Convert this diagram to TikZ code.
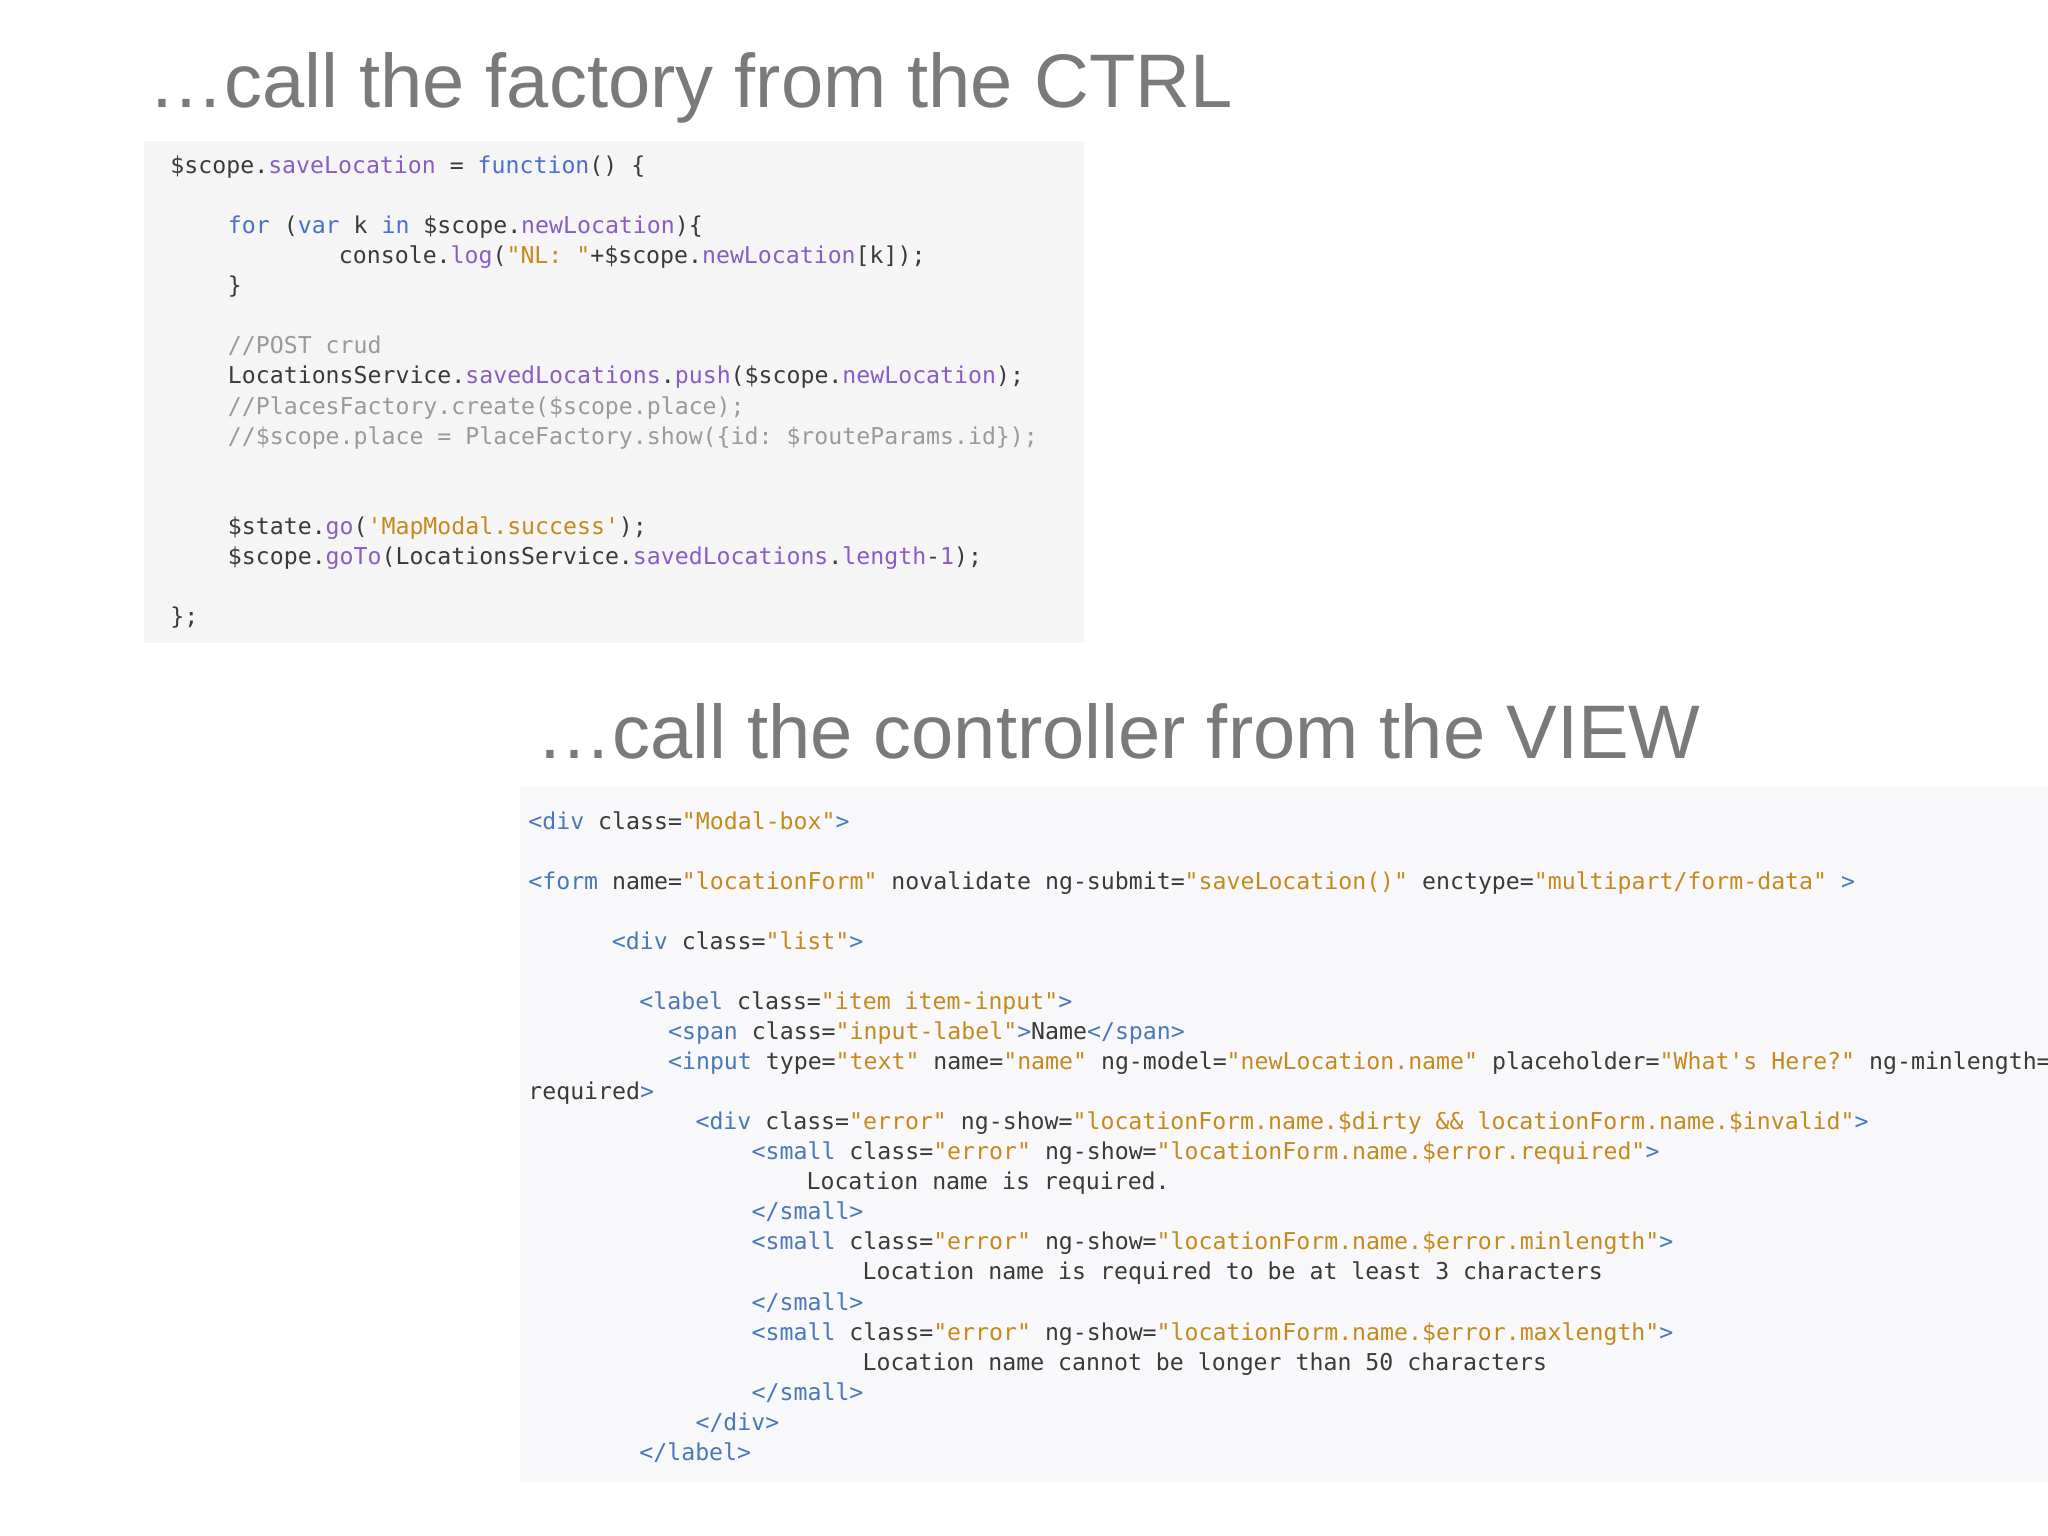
\documentclass[tikz,border=0pt]{standalone}
\usepackage{fontspec}
\setmainfont{Liberation Sans}
\setmonofont{DejaVu Sans Mono}
\definecolor{titlegray}{HTML}{7A7A7A}
\definecolor{codetext}{HTML}{3A3A3A}
\definecolor{kwblue}{HTML}{4A6FCF}
\definecolor{propurple}{HTML}{8A5CC4}
\definecolor{strorange}{HTML}{C48A1C}
\definecolor{cmtgray}{HTML}{9A9A9A}
\definecolor{tagblue}{HTML}{4A78B8}
\definecolor{boxA}{HTML}{F5F5F5}
\definecolor{boxB}{HTML}{F8F7FA}
\newcommand{\kw}[1]{\textcolor{kwblue}{#1}}
\newcommand{\pr}[1]{\textcolor{propurple}{#1}}
\newcommand{\st}[1]{\textcolor{strorange}{#1}}
\newcommand{\cm}[1]{\textcolor{cmtgray}{#1}}
\newcommand{\tg}[1]{\textcolor{tagblue}{#1}}
\tikzset{
  slidetitle/.style={anchor=base west, inner sep=0, text=titlegray, font=\fontsize{21.6}{26}\selectfont},
  codeline/.style={anchor=base west, inner sep=0, text=codetext, font=\ttfamily\fontsize{6.6}{8}\selectfont}
}
\begin{document}
\begin{tikzpicture}[x=0.013061cm, y=-0.013061cm]
    \useasboundingbox (0,0) rectangle (1568,1176);
    \fill[white] (0,0) rectangle (1568,1176);

    % Titles
    \node[slidetitle] (ttlctrl) at (113,82) {…call the factory from the CTRL};
    \node[slidetitle] (ttlview) at (410,581) {…call the controller from the VIEW};

    % Controller code
    \fill[boxA] (110,108) rectangle (830,492);
    \node[codeline] (c1) at (130,133) {\$scope.\pr{saveLocation} = \kw{function}() \{};
    \node[codeline] (c2) at (174,179) {\kw{for} (\kw{var} k \kw{in} \$scope.\pr{newLocation})\{};
    \node[codeline] (c3) at (259,202) {console.\pr{log}(\st{"NL: "}+\$scope.\pr{newLocation}[k]);};
    \node[codeline] (c4) at (174,225) {\}};
    \node[codeline] (c5) at (174,271) {\cm{//POST crud}};
    \node[codeline] (c6) at (174,294) {LocationsService.\pr{savedLocations}.\pr{push}(\$scope.\pr{newLocation});};
    \node[codeline] (c7) at (174,317) {\cm{//PlacesFactory.create(\$scope.place);}};
    \node[codeline] (c8) at (174,340) {\cm{//\$scope.place = PlaceFactory.show(\{id: \$routeParams.id\});}};
    \node[codeline] (c9) at (174,409) {\$state.\pr{go}(\st{'MapModal.success'});};
    \node[codeline] (c10) at (174,432) {\$scope.\pr{goTo}(LocationsService.\pr{savedLocations}.\pr{length}-\pr{1});};
    \node[codeline] (c11) at (130,478) {\};};

    % View code
    \fill[boxB] (398,602) rectangle (1568,1135);
    \node[codeline] (v1) at (404,635) {\tg{<div} class=\st{"Modal-box"}\tg{>}};
    \node[codeline] (v2) at (404,681) {\tg{<form} name=\st{"locationForm"} novalidate ng-submit=\st{"saveLocation()"} enctype=\st{"multipart/form-data"} \tg{>}};
    \node[codeline] (v3) at (468,727) {\tg{<div} class=\st{"list"}\tg{>}};
    \node[codeline] (v4) at (489,773) {\tg{<label} class=\st{"item item-input"}\tg{>}};
    \node[codeline] (v5) at (511,796) {\tg{<span} class=\st{"input-label"}\tg{>}Name\tg{</span>}};
    \node[codeline] (v6) at (511,819) {\tg{<input} type=\st{"text"} name=\st{"name"} ng-model=\st{"newLocation.name"} placeholder=\st{"What's Here?"} ng-minlength=};
    \node[codeline] (v7) at (404,842) {required\tg{>}};
    \node[codeline] (v8) at (532,865) {\tg{<div} class=\st{"error"} ng-show=\st{"locationForm.name.\$dirty \&\& locationForm.name.\$invalid"}\tg{>}};
    \node[codeline] (v9) at (575,888) {\tg{<small} class=\st{"error"} ng-show=\st{"locationForm.name.\$error.required"}\tg{>}};
    \node[codeline] (v10) at (617,911) {Location name is required.};
    \node[codeline] (v11) at (575,934) {\tg{</small>}};
    \node[codeline] (v12) at (575,957) {\tg{<small} class=\st{"error"} ng-show=\st{"locationForm.name.\$error.minlength"}\tg{>}};
    \node[codeline] (v13) at (660,980) {Location name is required to be at least 3 characters};
    \node[codeline] (v14) at (575,1003) {\tg{</small>}};
    \node[codeline] (v15) at (575,1026) {\tg{<small} class=\st{"error"} ng-show=\st{"locationForm.name.\$error.maxlength"}\tg{>}};
    \node[codeline] (v16) at (660,1049) {Location name cannot be longer than 50 characters};
    \node[codeline] (v17) at (575,1072) {\tg{</small>}};
    \node[codeline] (v18) at (532,1095) {\tg{</div>}};
    \node[codeline] (v19) at (489,1118) {\tg{</label>}};
\end{tikzpicture}
\end{document}
